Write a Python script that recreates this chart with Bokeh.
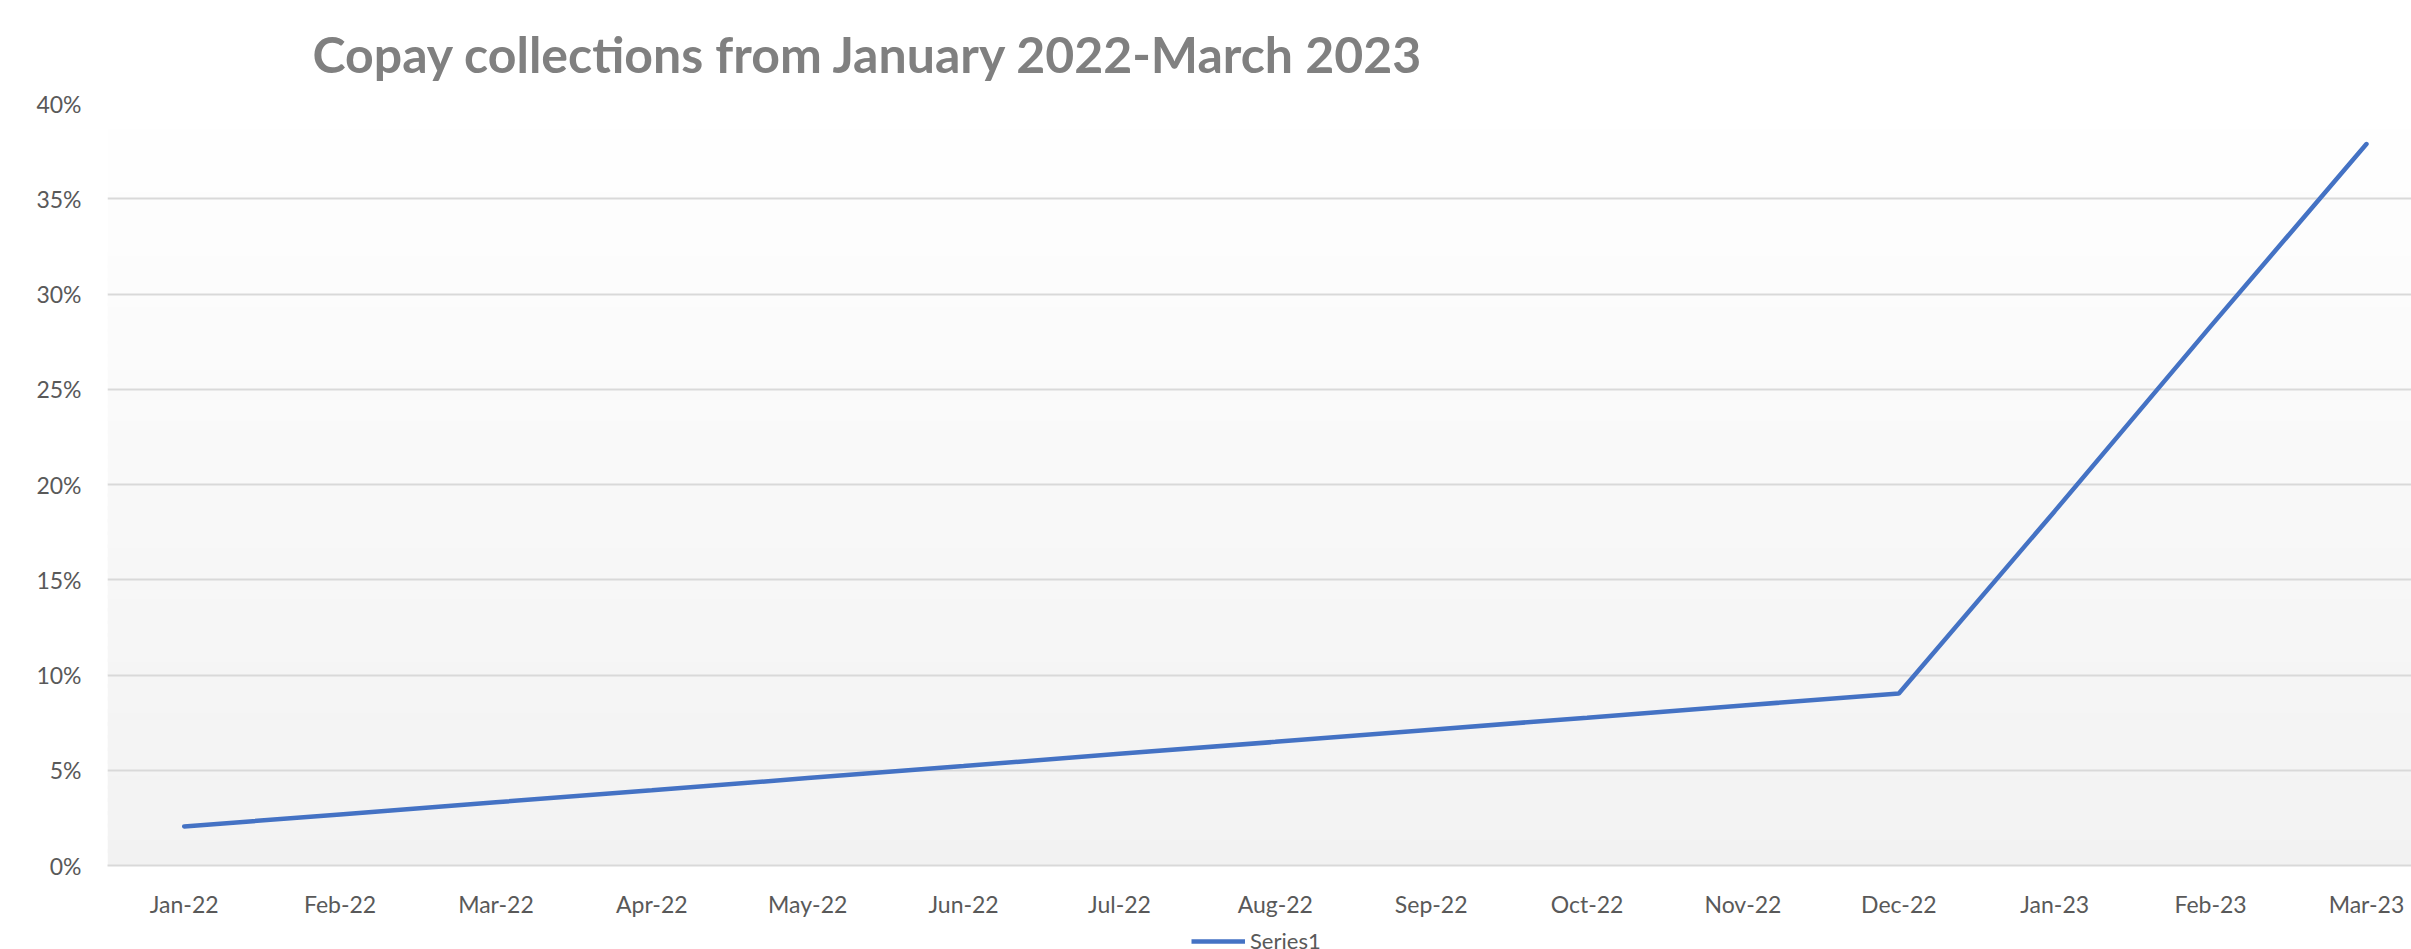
from bokeh.plotting import figure
from bokeh.layouts import column
from bokeh.models import (Range1d, FixedTicker, NumeralTickFormatter, BoxAnnotation,
                          Legend, LegendItem, ColumnDataSource)
from bokeh.embed import file_html
from bokeh.resources import INLINE

# ---- data ----
months = ["Jan-22", "Feb-22", "Mar-22", "Apr-22", "May-22", "Jun-22", "Jul-22",
          "Aug-22", "Sep-22", "Oct-22", "Nov-22", "Dec-22", "Jan-23", "Feb-23", "Mar-23"]
copay_rate = [0.0205, 0.0268, 0.0332, 0.0395, 0.0459, 0.0522, 0.0586, 0.0649,
              0.0713, 0.0776, 0.0840, 0.0903, 0.1860, 0.2830, 0.3787]
y_ticks = [0.0, 0.05, 0.10, 0.15, 0.20, 0.25, 0.30, 0.35, 0.40]
series_name = "Series1"
title_text = "Copay collections from January 2022-March 2023"

x_idx = list(range(len(months)))
src = ColumnDataSource(data=dict(x=x_idx, y=copay_rate, month=months))

FONT = "Lato"
TXT = "#595959"
LINE_COLOR = "#4472c4"

p = figure(width=2411, height=929, output_backend="svg", toolbar_location=None,
           x_range=Range1d(-0.492, 14.289), y_range=Range1d(0, 0.40),
           min_border_left=107, min_border_right=0, min_border_top=103,
           min_border_bottom=64, background_fill_color="white",
           border_fill_color="white", outline_line_color=None)

# gradient background of the plot area (white at top -> light grey at bottom)
n_bands = 60
for i in range(n_bands):
    b = 0.40 * i / n_bands
    t = 0.40 * (i + 1) / n_bands + 0.002
    frac = (i + 0.5) / n_bands
    g = int(round(242 + 13 * frac))
    col = "#%02x%02x%02x" % (g, g, g)
    p.add_layout(BoxAnnotation(bottom=b, top=t, fill_color=col, fill_alpha=1.0,
                               line_color=None, level="image"))

r = p.line("x", "y", source=src, line_color=LINE_COLOR, line_width=4.5, line_cap="round")

# title
p.title.text = title_text
p.title.text_font = FONT
p.title.text_font_style = "bold"
p.title.text_font_size = "50px"
p.title.text_color = "#808080"
p.title.align = "left"
p.title.offset = 205
p.title.standoff = 40

# axes
p.xaxis.ticker = FixedTicker(ticks=x_idx)
p.xaxis.major_label_overrides = {i: m for i, m in enumerate(months)}
p.xaxis.major_label_text_font = FONT
p.xaxis.major_label_text_font_size = "23px"
p.xaxis.major_label_text_color = TXT
p.xaxis.major_label_standoff = 18
p.xaxis.axis_line_color = "#d9d9d9"
p.xaxis.axis_line_width = 2
p.xaxis.major_tick_line_color = None
p.xaxis.minor_tick_line_color = None

p.yaxis.ticker = FixedTicker(ticks=y_ticks)
p.yaxis.formatter = NumeralTickFormatter(format="0%")
p.yaxis.major_label_text_font = FONT
p.yaxis.major_label_text_font_size = "23px"
p.yaxis.major_label_text_color = TXT
p.yaxis.major_label_standoff = 20
p.yaxis.axis_line_color = None
p.yaxis.major_tick_line_color = None
p.yaxis.minor_tick_line_color = None

p.xgrid.grid_line_color = None
p.ygrid.ticker = FixedTicker(ticks=y_ticks)
p.ygrid.grid_line_color = "#d9d9d9"
p.ygrid.grid_line_width = 2

# legend strip at the very bottom (partly below the page edge, as in the reference);
# its renderer shows the same series, but outside the strip's visible range
leg_fig = figure(width=2411, height=20, output_backend="svg", toolbar_location=None,
                 x_axis_type=None, y_axis_type=None, x_range=Range1d(-200, -199),
                 y_range=Range1d(0, 1), min_border=0, outline_line_color=None,
                 background_fill_color="white", border_fill_color="white")
leg_fig.xgrid.grid_line_color = None
leg_fig.ygrid.grid_line_color = None
lr = leg_fig.line("x", "y", source=src, line_color=LINE_COLOR, line_width=4.5)
legend = Legend(items=[LegendItem(label=series_name, renderers=[lr])],
                location=(1084, -5), orientation="horizontal",
                border_line_color=None, background_fill_alpha=0,
                padding=0, margin=0, glyph_width=54, glyph_height=20,
                label_standoff=5, label_text_font=FONT,
                label_text_font_size="22px", label_text_color=TXT)
leg_fig.add_layout(legend)

layout = column(p, leg_fig, spacing=0)

open("out.html", "w").write(file_html(layout, INLINE))
